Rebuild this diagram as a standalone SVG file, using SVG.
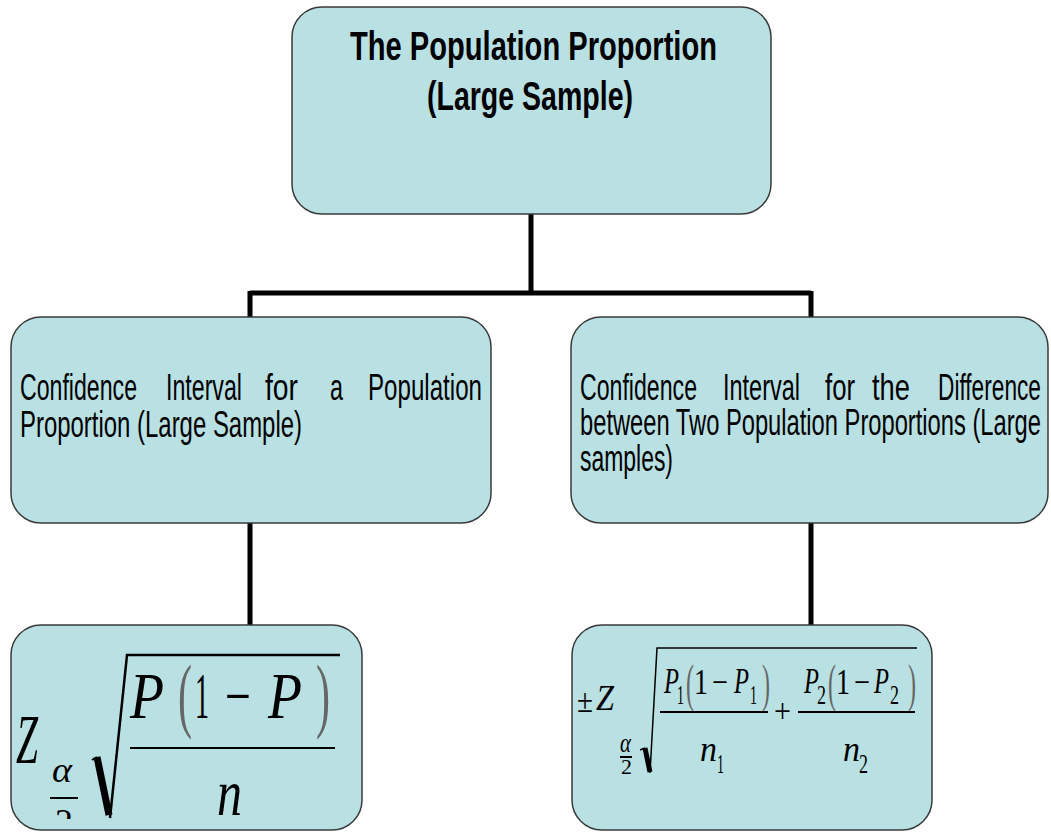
<svg xmlns="http://www.w3.org/2000/svg" width="1051" height="832" viewBox="0 0 1051 832">
<style>
.box{fill:#b9e0e3;stroke:#3a3a3a;stroke-width:1.5}
.conn{stroke:#000;stroke-width:5;fill:none}
.lbl{font-family:"Liberation Sans",Arial,sans-serif;font-size:36px;fill:#000}
.ttl{font-family:"Liberation Sans",Arial,sans-serif;font-size:40px;font-weight:bold;fill:#000}
.mi{font-family:"Liberation Serif","Times New Roman",serif;font-style:italic;fill:#000}
.mu{font-family:"Liberation Serif","Times New Roman",serif;fill:#000}
.par{font-family:"Liberation Serif","Times New Roman",serif;fill:#666}
.bar{stroke:#000;stroke-width:2;fill:none}
</style>
<defs>
<clipPath id="clipL"><rect x="0" y="600" width="400" height="219"/></clipPath>
</defs>
<rect width="1051" height="832" fill="#fff"/>
<g id="connectors">
<path class="conn" d="M531,214 V293 M250,293 H811 M250,291 V317 M811,291 V317 M250,523 V625 M811,523 V625"/>
</g>
<g id="node-top">
<rect class="box" x="292" y="7" width="479" height="207" rx="30"/>
<text class="ttl" x="350" y="60" textLength="367" lengthAdjust="spacingAndGlyphs">The Population Proportion</text>
<text class="ttl" x="427" y="110" textLength="206" lengthAdjust="spacingAndGlyphs">(Large Sample)</text>
</g>
<g id="node-ci-one">
<rect class="box" x="11" y="317" width="480" height="206" rx="30"/>
<text class="lbl" x="20" y="400" textLength="117" lengthAdjust="spacingAndGlyphs">Confidence</text>
<text class="lbl" x="166" y="400" textLength="76" lengthAdjust="spacingAndGlyphs">Interval</text>
<text class="lbl" x="265" y="400" textLength="33" lengthAdjust="spacingAndGlyphs">for</text>
<text class="lbl" x="330" y="400" textLength="13" lengthAdjust="spacingAndGlyphs">a</text>
<text class="lbl" x="368" y="400" textLength="114" lengthAdjust="spacingAndGlyphs">Population</text>
<text class="lbl" x="20" y="437" textLength="282" lengthAdjust="spacingAndGlyphs">Proportion (Large Sample)</text>
</g>
<g id="node-ci-two">
<rect class="box" x="571" y="317" width="477" height="206" rx="30"/>
<text class="lbl" x="580" y="400" textLength="117" lengthAdjust="spacingAndGlyphs">Confidence</text>
<text class="lbl" x="723" y="400" textLength="77" lengthAdjust="spacingAndGlyphs">Interval</text>
<text class="lbl" x="825" y="400" textLength="30" lengthAdjust="spacingAndGlyphs">for</text>
<text class="lbl" x="872" y="400" textLength="38" lengthAdjust="spacingAndGlyphs">the</text>
<text class="lbl" x="938" y="400" textLength="103" lengthAdjust="spacingAndGlyphs">Difference</text>
<text class="lbl" x="580" y="435" textLength="461" lengthAdjust="spacingAndGlyphs">between Two Population Proportions (Large</text>
<text class="lbl" x="580" y="471" textLength="93" lengthAdjust="spacingAndGlyphs">samples)</text>
</g>
<g id="node-formula-one">
<rect class="box" x="11" y="625" width="351" height="205" rx="30"/>
<text class="mi" x="16" y="763" font-size="70" textLength="22" lengthAdjust="spacingAndGlyphs">Z</text>
<text class="mi" x="52" y="782" font-size="36" textLength="20" lengthAdjust="spacingAndGlyphs">α</text>
<line class="bar" x1="50" y1="798" x2="78" y2="798"/>
<g clip-path="url(#clipL)"><text class="mu" x="55" y="834" font-size="36" textLength="18" lengthAdjust="spacingAndGlyphs">2</text></g>
<polyline points="92,760 97,757" stroke="#000" stroke-width="2" fill="none"/>
<line x1="97" y1="757" x2="109" y2="815" stroke="#000" stroke-width="7"/>
<polyline points="110,818 127,655 340,655" stroke="#000" stroke-width="2.5" fill="none"/>
<text class="mi" x="130" y="718" font-size="65" textLength="34" lengthAdjust="spacingAndGlyphs">P</text>
<text class="par" x="178" y="722" font-size="82" textLength="14" lengthAdjust="spacingAndGlyphs">(</text>
<text class="mu" x="195" y="718" font-size="65" textLength="14" lengthAdjust="spacingAndGlyphs">1</text>
<text class="mu" x="225" y="718" font-size="65" textLength="26" lengthAdjust="spacingAndGlyphs">−</text>
<text class="mi" x="268" y="718" font-size="65" textLength="34" lengthAdjust="spacingAndGlyphs">P</text>
<text class="par" x="316" y="722" font-size="82" textLength="14" lengthAdjust="spacingAndGlyphs">)</text>
<line class="bar" x1="130" y1="748" x2="335" y2="748" stroke-width="2.5"/>
<text class="mi" x="217" y="815" font-size="65" textLength="25" lengthAdjust="spacingAndGlyphs">n</text>
</g>
<g id="node-formula-two">
<rect class="box" x="572" y="625" width="360" height="205" rx="30"/>
<text class="mu" x="577" y="712" font-size="34" textLength="16" lengthAdjust="spacingAndGlyphs">±</text>
<text class="mi" x="596" y="710" font-size="36" textLength="18" lengthAdjust="spacingAndGlyphs">Z</text>
<text class="mi" x="620" y="752" font-size="28" textLength="11" lengthAdjust="spacingAndGlyphs">α</text>
<line class="bar" x1="620" y1="757" x2="632" y2="757" stroke-width="1.5"/>
<text class="mu" x="621" y="774" font-size="22" textLength="11" lengthAdjust="spacingAndGlyphs">2</text>
<polyline points="640,750 645,748" stroke="#000" stroke-width="1.5" fill="none"/>
<line x1="645" y1="748" x2="650" y2="772" stroke="#000" stroke-width="5"/>
<polyline points="650,773 657,648 917,648" stroke="#000" stroke-width="1.5" fill="none"/>
<text class="mi" x="664" y="693" font-size="35" textLength="15" lengthAdjust="spacingAndGlyphs">P</text>
<text class="mu" x="677" y="704" font-size="28" textLength="7" lengthAdjust="spacingAndGlyphs">1</text>
<text class="par" x="686" y="701" font-size="52" textLength="8" lengthAdjust="spacingAndGlyphs">(</text>
<text class="mu" x="694" y="694" font-size="35" textLength="14" lengthAdjust="spacingAndGlyphs">1</text>
<text class="mu" x="712" y="694" font-size="35" textLength="16" lengthAdjust="spacingAndGlyphs">−</text>
<text class="mi" x="734" y="693" font-size="35" textLength="15" lengthAdjust="spacingAndGlyphs">P</text>
<text class="mu" x="750" y="704" font-size="28" textLength="7" lengthAdjust="spacingAndGlyphs">1</text>
<text class="par" x="762" y="701" font-size="52" textLength="8" lengthAdjust="spacingAndGlyphs">)</text>
<line class="bar" x1="660" y1="712" x2="768" y2="712"/>
<text class="mu" x="774" y="722" font-size="34" textLength="17" lengthAdjust="spacingAndGlyphs">+</text>
<text class="mi" x="804" y="693" font-size="35" textLength="15" lengthAdjust="spacingAndGlyphs">P</text>
<text class="mu" x="817" y="704" font-size="28" textLength="9" lengthAdjust="spacingAndGlyphs">2</text>
<text class="par" x="828" y="701" font-size="52" textLength="8" lengthAdjust="spacingAndGlyphs">(</text>
<text class="mu" x="836" y="694" font-size="35" textLength="14" lengthAdjust="spacingAndGlyphs">1</text>
<text class="mu" x="854" y="694" font-size="35" textLength="16" lengthAdjust="spacingAndGlyphs">−</text>
<text class="mi" x="874" y="693" font-size="35" textLength="15" lengthAdjust="spacingAndGlyphs">P</text>
<text class="mu" x="890" y="704" font-size="28" textLength="9" lengthAdjust="spacingAndGlyphs">2</text>
<text class="par" x="908" y="701" font-size="52" textLength="8" lengthAdjust="spacingAndGlyphs">)</text>
<line class="bar" x1="798" y1="712" x2="915" y2="712"/>
<text class="mi" x="700" y="761" font-size="35" textLength="17" lengthAdjust="spacingAndGlyphs">n</text>
<text class="mu" x="717" y="773" font-size="28" textLength="7" lengthAdjust="spacingAndGlyphs">1</text>
<text class="mi" x="843" y="761" font-size="35" textLength="17" lengthAdjust="spacingAndGlyphs">n</text>
<text class="mu" x="859" y="773" font-size="28" textLength="9" lengthAdjust="spacingAndGlyphs">2</text>
</g>
</svg>
